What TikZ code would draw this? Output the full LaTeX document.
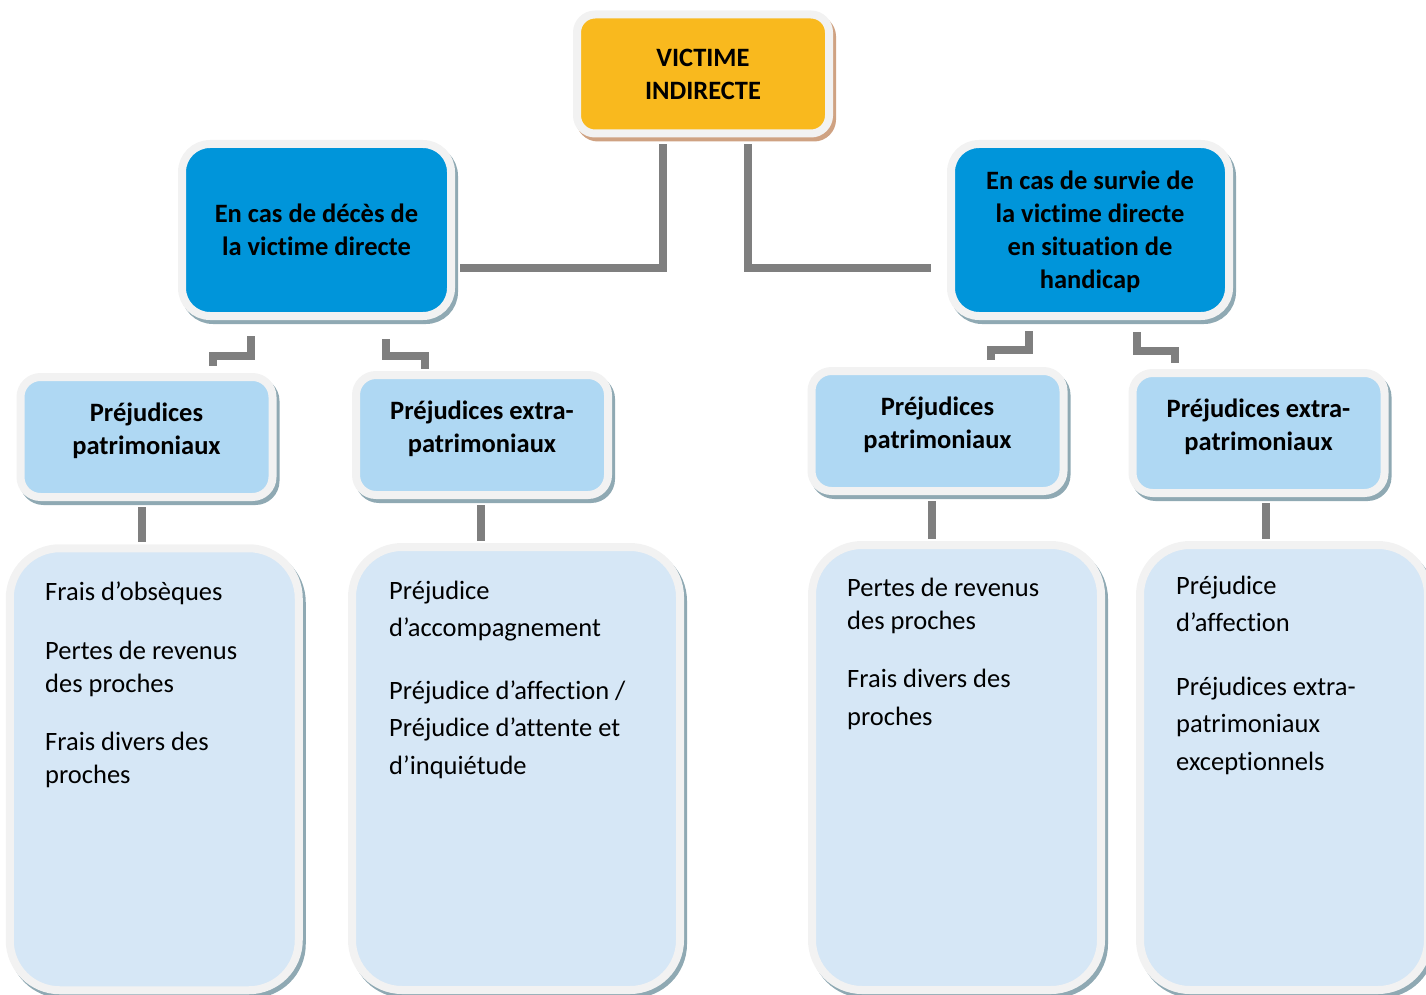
\documentclass[tikz,border=0pt]{standalone}
\usepackage{fontspec}
\setmainfont{Carlito}[Ligatures=NoCommon]
\usepackage{xcolor}
\definecolor{amber}{RGB}{249,185,30}
\definecolor{deepblue}{RGB}{0,149,218}
\definecolor{paleblue}{RGB}{175,216,243}
\definecolor{listblue}{RGB}{214,231,246}
\definecolor{rim}{RGB}{242,242,242}
\definecolor{tealshade}{RGB}{143,169,179}
\definecolor{tanshade}{RGB}{207,162,130}
\definecolor{linkgray}{RGB}{127,127,127}
\usepackage{tikz}
\usetikzlibrary{shadows}
\usetikzlibrary{positioning}

\tikzset{
  headfont/.style={font=\bfseries\fontsize{26.5}{33}\selectfont},
  listfont/.style={font=\fontsize{26.5}{#1}\selectfont},
  rimbox/.style={draw=rim, line width=8pt, inner sep=0pt, align=center},
  topbox/.style={rimbox, headfont, fill=amber, rounded corners=18pt,
    minimum width=252pt, minimum height=119pt,
    drop shadow={shadow xshift=3pt, shadow yshift=-4pt, fill=tanshade, draw=tanshade, line width=8pt, opacity=1}},
  casebox/.style={rimbox, headfont, fill=deepblue, rounded corners=28pt,
    minimum width=269pt, minimum height=172pt,
    drop shadow={shadow xshift=3pt, shadow yshift=-4pt, fill=tealshade, draw=tealshade, line width=8pt, opacity=1}},
  kindbox/.style={rimbox, headfont, fill=paleblue, rounded corners=20pt,
    minimum width=252pt, minimum height=120pt, text depth=17.5pt,
    drop shadow={shadow xshift=3pt, shadow yshift=-4pt, fill=tealshade, draw=tealshade, line width=8pt, opacity=1}},
  listbox/.style={rimbox, fill=listblue, rounded corners=50pt,
    minimum width=289pt, minimum height=442pt,
    drop shadow={shadow xshift=3pt, shadow yshift=-4pt, fill=tealshade, draw=tealshade, line width=8pt, opacity=1}},
  listtext/.style={anchor=north west, inner sep=0pt, align=left, listfont=#1},
  conn/.style={draw=linkgray, line width=8pt}
}

\begin{document}
\begin{tikzpicture}[x=1pt,y=-1pt]
\useasboundingbox (0,0) rectangle (1426,995);

% top of the tree
\node[topbox] (vic) at (703,74) {VICTIME\\INDIRECTE};
\node[casebox] (dec) at (316.5,230) {En cas de décès de\\la victime directe};
\node[casebox,minimum width=278pt] (surv) at (1090,230) {\rule{0pt}{22pt}En cas de survie de\\la victime directe\\en situation de\\handicap};

% kinds of losses
\node[kindbox] (pl1) at (146.5,437) {Préjudices\\patrimoniaux};
\node[kindbox] (pe1) at (482,435) {Préjudices extra-\\patrimoniaux};
\node[kindbox] (pl2) at (937.5,431) {Préjudices\\patrimoniaux};
\node[kindbox] (pe2) at (1258.5,433) {Préjudices extra-\\patrimoniaux};

% lists
\node[listbox] (l1) at (154.25,769.25) {};
\node[listbox,minimum width=328pt,minimum height=443pt] (l2) at (516,768.5) {};
\node[listbox,minimum height=445pt] (l3) at (956.5,767.5) {};
\node[listbox,minimum width=288pt,minimum height=445pt] (l4) at (1284,767.5) {};

\node[listtext=33pt] (t1) at (45,580) {\rule{0pt}{20pt}Frais d’obsèques\\[26pt]
  Pertes de revenus\\des proches\\[25pt]
  Frais divers des\\proches};
\node[listtext=37.5pt] (t2) at (389,579) {\rule{0pt}{20pt}Préjudice\\d’accompagnement\\[25pt]
  Préjudice d’affection /\\Préjudice d’attente et\\d’inquiétude};
\node[listtext=33pt] (t3) at (847,576) {\rule{0pt}{20pt}Pertes de revenus\\des proches\\[25pt]
  Frais divers des\\[5pt]proches};
\node[listtext=37.5pt] (t4) at (1176,574) {\rule{0pt}{20pt}Préjudice\\d’affection\\[26pt]
  Préjudices extra-\\patrimoniaux\\exceptionnels};

% connectors
\draw[conn, shorten <=7pt, shorten >=5pt] ([xshift=-40pt]vic.south) |- ([yshift=-38pt]dec.east);
\draw[conn, shorten <=7pt, shorten >=16pt] ([xshift=45pt]vic.south) |- ([yshift=-38pt]surv.west);

\draw[conn, shorten <=16pt, shorten >=7pt] ([xshift=-65.5pt]dec.south) -- ++(0,36) -| ([xshift=66.5pt]pl1.north);
\draw[conn, shorten <=19pt, shorten >=2pt] ([xshift=69.5pt]dec.south) -- ++(0,36) -| ([xshift=-57pt]pe1.north);
\draw[conn, shorten <=11pt, shorten >=7pt] ([xshift=-61pt]surv.south) -- ++(0,29.5) -| ([xshift=53.5pt]pl2.north);
\draw[conn, shorten <=12pt, shorten >=6pt] ([xshift=47pt]surv.south) -- ++(0,31) -| ([xshift=-83.5pt]pe2.north);

\draw[conn, shorten <=6pt, shorten >=2pt] ([xshift=-4.5pt]pl1.south) -- ([xshift=-4.5pt]pl1.south |- l1.north);
\draw[conn, shorten <=6pt, shorten >=2pt] ([xshift=-1pt]pe1.south) -- ([xshift=-1pt]pe1.south |- l2.north);
\draw[conn, shorten <=6pt, shorten >=2pt] ([xshift=-5.5pt]pl2.south) -- ([xshift=-5.5pt]pl2.south |- l3.north);
\draw[conn, shorten <=6pt, shorten >=2pt] ([xshift=7.5pt]pe2.south) -- ([xshift=7.5pt]pe2.south |- l4.north);
\end{tikzpicture}
\end{document}
